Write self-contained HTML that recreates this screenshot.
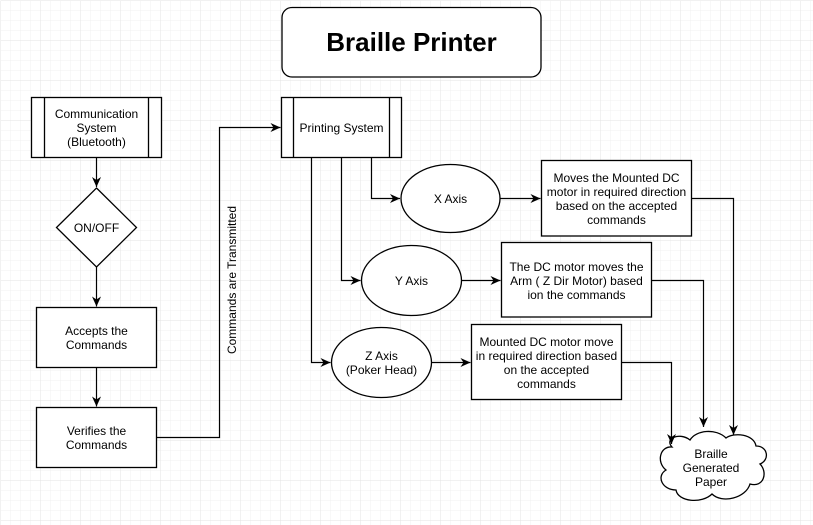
<!DOCTYPE html>
<html><head><meta charset="utf-8"><style>
html,body{margin:0;padding:0;width:813px;height:525px;overflow:hidden;background:#fff}
svg{display:block}
text{font-family:"Liberation Sans",Arial,sans-serif;font-size:12px;fill:#000}
</style></head><body>
<svg width="813" height="525" viewBox="0 0 813 525" xmlns="http://www.w3.org/2000/svg">
<defs>
<pattern id="g1" width="10" height="10" patternUnits="userSpaceOnUse"><path d="M10 0H0V10" fill="none" stroke="#f1f1f1" stroke-width="1"/></pattern>
<pattern id="g2" width="40" height="40" patternUnits="userSpaceOnUse"><rect width="40" height="40" fill="url(#g1)"/><path d="M40 0H0V40" fill="none" stroke="#e3e3e3" stroke-width="1"/></pattern>
<marker id="a" markerWidth="12" markerHeight="12" refX="10" refY="6" orient="auto" markerUnits="userSpaceOnUse"><path d="M0,1.5 L10,6 L0,10.5 L3,6 Z" fill="#000"/></marker>
</defs>
<rect width="813" height="525" fill="url(#g2)" transform="translate(0.5,0.5)"/>
<g fill="#fff" stroke="#000" stroke-width="1.3">
<rect x="282" y="7.5" width="259" height="69.5" rx="10"/>
<rect x="31.5" y="97.5" width="130" height="60"/>
<line x1="44.5" y1="97.5" x2="44.5" y2="157.5"/><line x1="148.5" y1="97.5" x2="148.5" y2="157.5"/>
<polygon points="96.5,188 136.5,227.5 96.5,267 56.5,227.5"/>
<rect x="36.5" y="307.5" width="120" height="60"/>
<rect x="36.5" y="407.5" width="120" height="60"/>
<rect x="281.5" y="97.5" width="120" height="60"/>
<line x1="293.5" y1="97.5" x2="293.5" y2="157.5"/><line x1="389.5" y1="97.5" x2="389.5" y2="157.5"/>
<ellipse cx="450.5" cy="198.5" rx="49.5" ry="34"/>
<ellipse cx="411.5" cy="280.5" rx="50" ry="35"/>
<ellipse cx="381.5" cy="362.5" rx="50" ry="35"/>
<rect x="541.5" y="160.5" width="150" height="75.5"/>
<rect x="501.5" y="242.5" width="150" height="74.5"/>
<rect x="471.5" y="324.5" width="150" height="75"/>
<path d="M672,447 C664,438 680,432 690,440 C696,430 716,428 726,438 C734,432 754,434 756,446 C768,446 770,460 760,464 C768,472 764,488 750,484 C746,498 722,504 712,494 C702,504 678,502 676,490 C662,490 656,476 666,470 C656,462 660,446 672,447 Z"/>
</g>
<g fill="none" stroke="#000" stroke-width="1.2">
<path d="M96.5,157.5 V187" marker-end="url(#a)"/>
<path d="M96.5,267 V306.5" marker-end="url(#a)"/>
<path d="M96.5,367.5 V406.5" marker-end="url(#a)"/>
<path d="M156.5,437.5 H219.5 V127.5 H280.5" marker-end="url(#a)"/>
<path d="M371.5,157.5 V198.5 H400" marker-end="url(#a)"/>
<path d="M341.5,157.5 V280.5 H360.5" marker-end="url(#a)"/>
<path d="M311.5,157.5 V362.5 H330.5" marker-end="url(#a)"/>
<path d="M500,198.5 H540.5" marker-end="url(#a)"/>
<path d="M461.5,280.5 H500.5" marker-end="url(#a)"/>
<path d="M431.5,362.5 H470.5" marker-end="url(#a)"/>
<path d="M691.5,198.5 H733.5 V435" marker-end="url(#a)"/>
<path d="M651.5,280.5 H703.5 V427" marker-end="url(#a)"/>
<path d="M621.5,362.5 H671.5 V444" marker-end="url(#a)"/>
</g>
<text x="411.5" y="51" text-anchor="middle" style="font-size:26px;font-weight:bold">Braille Printer</text>
<g text-anchor="middle">
<text x="96.5" y="118">Communication</text><text x="96.5" y="132">System</text><text x="96.5" y="146">(Bluetooth)</text>
<text x="96.5" y="232">ON/OFF</text>
<text x="96.5" y="335">Accepts the</text><text x="96.5" y="349">Commands</text>
<text x="96.5" y="435">Verifies the</text><text x="96.5" y="449">Commands</text>
<text x="341.5" y="132">Printing System</text>
<text x="450.5" y="203">X Axis</text>
<text x="411.5" y="285">Y Axis</text>
<text x="381.5" y="360">Z Axis</text><text x="381.5" y="374">(Poker Head)</text>
<text x="616.5" y="182">Moves the Mounted DC</text><text x="616.5" y="196">motor in required direction</text><text x="616.5" y="210">based on the accepted</text><text x="616.5" y="224">commands</text>
<text x="576.5" y="271">The DC motor moves the</text><text x="576.5" y="285">Arm ( Z Dir Motor) based</text><text x="576.5" y="299">ion the commands</text>
<text x="546.5" y="346">Mounted DC motor move</text><text x="546.5" y="360">in required direction based</text><text x="546.5" y="374">on the accepted</text><text x="546.5" y="388">commands</text>
<text x="711" y="458">Braille</text><text x="711" y="472">Generated</text><text x="711" y="486">Paper</text>
<text transform="translate(236,280) rotate(-90)">Commands are Transmitted</text>
</g>
</svg>
</body></html>
